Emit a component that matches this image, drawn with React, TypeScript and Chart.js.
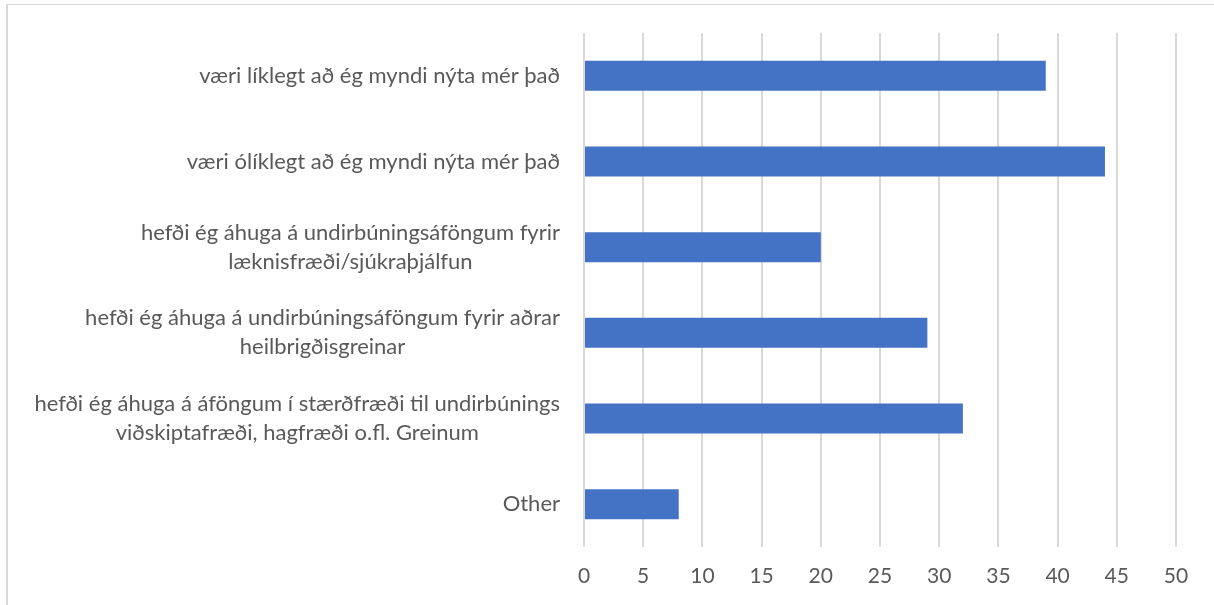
import React, { useEffect, useRef } from "react";
import { Chart, registerables } from "chart.js";

Chart.register(...registerables);

const categories: string[][] = [
  ["væri líklegt að ég myndi nýta mér það"],
  ["væri ólíklegt að ég myndi nýta mér það"],
  ["hefði ég áhuga á undirbúningsáföngum fyrir", "læknisfræði/sjúkraþjálfun"],
  ["hefði ég áhuga á undirbúningsáföngum fyrir aðrar", "heilbrigðisgreinar"],
  ["hefði ég áhuga á áföngum í stærðfræði til undirbúnings", "viðskiptafræði, hagfræði o.fl. Greinum"],
  ["Other"],
];
const values: number[] = [39, 44, 20, 29, 32, 8];
const xMin = 0;
const xMax = 50;
const xStep = 5;

const FONT = "Lato, 'Open Sans', sans-serif";
const FONT_SIZE = 22;
const TICK_FONT_SIZE = 21;
const LINE_H = 29;
const TEXT_COLOR = "#595959";
const GRID_COLOR = "#d9d9d9";
const BAR_COLOR = "#4472C4";

const labelPlugin = {
  id: "blockLabels",
  afterDraw(chart: any) {
    const ctx = chart.ctx as CanvasRenderingContext2D;
    const yScale = chart.scales.y;
    ctx.save();
    ctx.font = `${FONT_SIZE}px ${FONT}`;
    ctx.fillStyle = TEXT_COLOR;
    ctx.textAlign = "center";
    ctx.textBaseline = "middle";
    const right = chart.chartArea.left - 24;
    categories.forEach((lines, i) => {
      const w = Math.max(...lines.map((l) => ctx.measureText(l).width));
      const cx = right - w / 2;
      const cy = yScale.getPixelForValue(i);
      const n = lines.length;
      lines.forEach((l, j) => {
        ctx.fillText(l, cx, cy + (j - (n - 1) / 2) * LINE_H);
      });
    });
    ctx.restore();
  },
};

export default function App() {
  const ref = useRef<HTMLCanvasElement | null>(null);
  useEffect(() => {
    if (!ref.current) return;
    const chart = new Chart(ref.current, {
      type: "bar",
      data: {
        labels: categories.map((c) => c.join(" ")),
        datasets: [
          {
            data: values,
            backgroundColor: BAR_COLOR,
            borderWidth: 0,
            barPercentage: 0.35,
            categoryPercentage: 1,
          },
        ],
      },
      options: {
        indexAxis: "y",
        animation: false,
        responsive: false,
        layout: { padding: { left: 0, top: 33, right: 38, bottom: 0 } },
        plugins: { legend: { display: false }, tooltip: { enabled: false } },
        scales: {
          x: {
            min: xMin,
            max: xMax,
            ticks: {
              stepSize: xStep,
              color: TEXT_COLOR,
              font: { family: FONT, size: TICK_FONT_SIZE },
              padding: 17,
            },
            grid: { color: GRID_COLOR, lineWidth: 2, drawTicks: false },
            border: { display: false },
            afterFit: (s: any) => {
              s.height = 58;
            },
          },
          y: {
            ticks: { display: false },
            grid: { display: false },
            border: { display: false },
            afterFit: (s: any) => {
              s.width = 584;
            },
          },
        },
      },
      plugins: [labelPlugin],
    });
    return () => chart.destroy();
  }, []);

  return (
    <div
      style={{
        position: "fixed",
        left: 0,
        top: 0,
        width: 1214,
        height: 605,
        overflow: "hidden",
        background: "#fff",
      }}
    >
      <div
        style={{
          position: "absolute",
          left: 6,
          top: 4,
          width: 1400,
          height: 800,
          borderLeft: `2px solid ${GRID_COLOR}`,
          borderTop: `1px solid ${GRID_COLOR}`,
        }}
      />
      <canvas
        ref={ref}
        width={1214}
        height={605}
        style={{ position: "absolute", left: 0, top: 0, width: 1214, height: 605 }}
      />
    </div>
  );
}
